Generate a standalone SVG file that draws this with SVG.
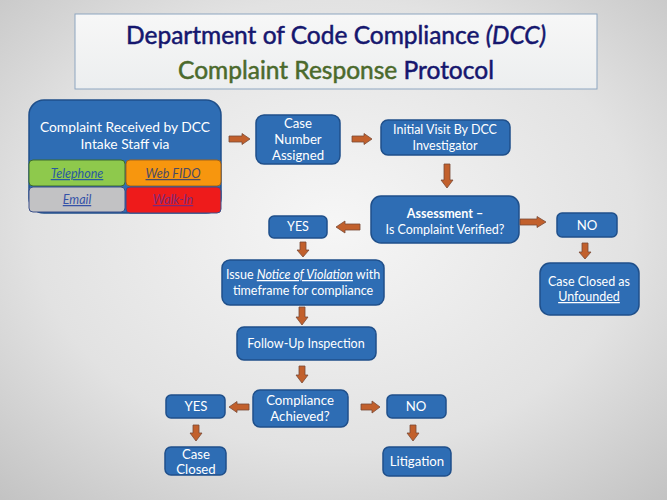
<svg xmlns="http://www.w3.org/2000/svg" width="667" height="500" viewBox="0 0 667 500">
<defs>
<radialGradient id="bg" cx="0.5" cy="0.45" r="0.75">
<stop offset="0" stop-color="#f6f6f6"/>
<stop offset="0.6" stop-color="#e2e2e2"/>
<stop offset="1" stop-color="#c2c2c2"/>
</radialGradient>
<linearGradient id="tb" x1="0" y1="0" x2="0" y2="1">
<stop offset="0" stop-color="#f7f7f7"/>
<stop offset="1" stop-color="#eceeef"/>
</linearGradient>
<style>
.box{fill:#2e6db4;stroke:#1f4f8a;stroke-width:1.5}
.t{font-family:Lato,"Open Sans","DejaVu Sans",sans-serif;font-size:12.5px;fill:#ffffff;text-anchor:middle}
.big{font-size:13.8px}
.mid{font-size:13.2px}
.arr{fill:#c2602c;stroke:#7a4a36;stroke-width:0.8}
.cell{font-family:Lato,"Open Sans","DejaVu Sans",sans-serif;font-size:12.5px;font-style:italic;text-decoration:underline;text-anchor:middle}
.title{font-family:Lato,"Open Sans","DejaVu Sans",sans-serif;font-size:24.5px;text-anchor:middle;stroke-width:0.5}
</style>
</defs>
<rect x="0" y="0" width="667" height="500" fill="url(#bg)"/>
<g id="title">
<rect x="75" y="14" width="522" height="75" fill="url(#tb)" stroke="#8ea6c0" stroke-width="1"/>
<text class="title" x="336" y="44" fill="#15166e" stroke="#15166e">Department of Code Compliance <tspan font-style="italic">(DCC)</tspan></text>
<text class="title" x="336" y="79" fill="#4b6a2c" stroke="#4b6a2c">Complaint Response <tspan fill="#15166e" stroke="#15166e">Protocol</tspan></text>
</g>
<g id="intake">
<rect class="box" x="29" y="100" width="192" height="113" rx="15"/>
<text class="t big" x="125" y="132">Complaint Received by DCC</text>
<text class="t big" x="125" y="149">Intake Staff via</text>
<rect x="29" y="160" width="96" height="26" rx="4" fill="#8ec94c" stroke="#3c6a2e" stroke-width="1"/>
<rect x="126" y="160" width="95" height="26" rx="4" fill="#f7960e" stroke="#a0621a" stroke-width="1"/>
<rect x="29" y="187" width="96" height="25" rx="4" fill="#c2c2c4" stroke="#3a4f8a" stroke-width="1"/>
<rect x="126" y="187" width="95" height="26" rx="4" fill="#ee1b1b" stroke="#3a4f8a" stroke-width="1"/>
<text class="cell" x="77" y="178" fill="#2a5aa0">Telephone</text>
<text class="cell" x="173" y="178" fill="#4a4a66">Web FIDO</text>
<text class="cell" x="77" y="204" fill="#3552a8">Email</text>
<text class="cell" x="173" y="204" fill="#7a2a7a">Walk-In</text>
</g>
<g id="case-number">
<rect class="box" x="256" y="115" width="84" height="49" rx="8"/>
<text class="t mid" x="298" y="128">Case</text>
<text class="t mid" x="298" y="144">Number</text>
<text class="t mid" x="298" y="160">Assigned</text>
</g>
<g id="initial-visit">
<rect class="box" x="381" y="120" width="129" height="35" rx="7"/>
<text class="t" x="445" y="134">Initial Visit By DCC</text>
<text class="t" x="445" y="150">Investigator</text>
</g>
<g id="assessment">
<rect class="box" x="371" y="196" width="148" height="47" rx="10"/>
<text class="t" x="445" y="218" font-weight="bold">Assessment –</text>
<text class="t" x="445" y="234">Is Complaint Verified?</text>
</g>
<g id="yes1">
<rect class="box" x="269" y="216" width="58" height="22" rx="5"/>
<text class="t" x="298" y="231">YES</text>
</g>
<g id="no1">
<rect class="box" x="557" y="213" width="60" height="24" rx="5"/>
<text class="t mid" x="587" y="230">NO</text>
</g>
<g id="unfounded">
<rect class="box" x="540" y="263" width="99" height="52" rx="10"/>
<text class="t" x="589" y="286">Case Closed as</text>
<text class="t" x="589" y="301" text-decoration="underline">Unfounded</text>
</g>
<g id="notice">
<rect class="box" x="222" y="260" width="162" height="45" rx="8"/>
<text class="t" x="303" y="279">Issue <tspan font-style="italic" text-decoration="underline">Notice of Violation</tspan> with</text>
<text class="t" x="303" y="295">timeframe for compliance</text>
</g>
<g id="follow-up">
<rect class="box" x="237" y="327" width="139" height="33" rx="7"/>
<text class="t" x="306" y="348">Follow-Up Inspection</text>
</g>
<g id="compliance">
<rect class="box" x="253" y="390" width="95" height="37" rx="7"/>
<text class="t mid" x="300" y="405">Compliance</text>
<text class="t mid" x="300" y="421">Achieved?</text>
</g>
<g id="yes2">
<rect class="box" x="166" y="395" width="59" height="23" rx="5"/>
<text class="t mid" x="196" y="411">YES</text>
</g>
<g id="no2">
<rect class="box" x="387" y="395" width="59" height="23" rx="5"/>
<text class="t mid" x="416" y="411">NO</text>
</g>
<g id="case-closed">
<rect class="box" x="165" y="447" width="61" height="28" rx="6"/>
<text class="t mid" x="196" y="459">Case</text>
<text class="t mid" x="196" y="474">Closed</text>
</g>
<g id="litigation">
<rect class="box" x="383" y="447" width="68" height="29" rx="6"/>
<text class="t mid" x="417" y="466">Litigation</text>
</g>
<g id="connectors">
<polygon class="arr" points="229,136 242,136 242,133.5 250,139 242,144.5 242,142 229,142"/>
<polygon class="arr" points="352,136 364,136 364,133.5 372,139 364,144.5 364,142 352,142"/>
<polygon class="arr" points="444,164 450,164 450,180 453,180 447,188 441,180 444,180"/>
<polygon class="arr" points="360,224 345,224 345,221 336,227 345,233 345,230 360,230"/>
<polygon class="arr" points="520,219 537,219 537,216.5 546,222 537,227.5 537,225 520,225"/>
<polygon class="arr" points="582,243 588,243 588,252 591,252 585,259 579,252 582,252"/>
<polygon class="arr" points="300,242 306,242 306,250 309,250 303,257 297,250 300,250"/>
<polygon class="arr" points="299,307 305,307 305,317 308,317 302,325 296,317 299,317"/>
<polygon class="arr" points="299,366 305,366 305,375 308,375 302,383 296,375 299,375"/>
<polygon class="arr" points="249,404 237,404 237,401.5 229,407 237,412.5 237,410 249,410"/>
<polygon class="arr" points="361,404 372,404 372,401 380,407 372,413 372,410 361,410"/>
<polygon class="arr" points="193,425 199,425 199,433 202,433 196,441 190,433 193,433"/>
<polygon class="arr" points="410,425 416,425 416,433 419,433 413,441 407,433 410,433"/>
</g>
</svg>
